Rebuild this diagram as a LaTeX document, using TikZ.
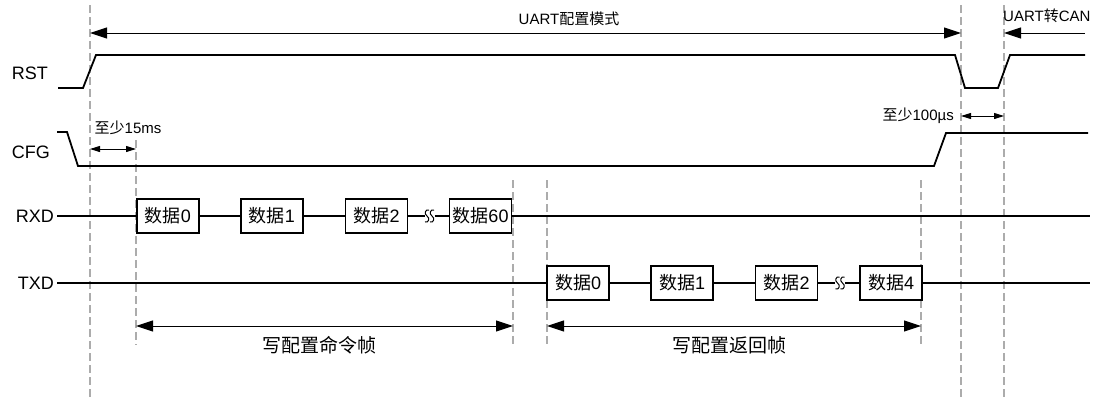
\documentclass[tikz,border=0pt]{standalone}
\usepackage{fontspec}
\setmainfont{Liberation Sans}
\newfontfamily\cnfont{Noto Sans CJK SC}
\usepackage{tikz}
\usetikzlibrary{arrows.meta}

\newcommand{\zh}[1]{{\cnfont #1}}

\begin{document}
\begin{tikzpicture}[
    x=1pt, y=-1pt,
    every node/.style={inner sep=1pt},
    sig/.style    ={line width=1.8pt,line join=miter},
    guide/.style  ={gray!65,line width=1.2pt,dash pattern=on 8pt off 4pt},
    span/.style   ={{Triangle[length=17pt,width=11pt]}-{Triangle[length=17pt,width=11pt]},
                    line width=1pt},
    lspan/.style  ={{Triangle[length=17pt,width=11pt]}-,line width=1pt},
    gap/.style    ={{Triangle[length=10pt,width=6pt]}-{Triangle[length=10pt,width=6pt]},
                    line width=1pt},
    databox/.style={draw,line width=1.8pt,fill=white,minimum width=62pt,
                    minimum height=34pt,inner sep=0pt,
                    font=\fontsize{18}{20}\selectfont},
    lbl/.style    ={font=\fontsize{18}{20}\selectfont,inner sep=3pt},
    note/.style   ={font=\fontsize{15}{17}\selectfont},
    frame/.style  ={font=\fontsize{19}{21}\selectfont},
    brk/.pic      ={
      \draw[line width=1pt] (-0.5,-6) .. controls (-4.5,-7) and (-5.5,-2) .. (-2.5,0)
                           .. controls (0.5,2) and (-0.5,7) .. (-4.5,6);
      \draw[line width=1pt] (4.5,-6) .. controls (0.5,-7) and (-0.5,-2) .. (2.5,0)
                           .. controls (5.5,2) and (4.5,7) .. (0.5,6);
    },
  ]
  \useasboundingbox (0,0) rectangle (1099,400);

  % Guide lines
  \foreach \gx/\gt/\gb in {90/5/400, 136/140/345, 513/180/345, 547/180/345,
                           921/180/345, 961/5/400, 1004/5/400}
    \draw[guide] (\gx,\gt) -- (\gx,\gb);

  % Mode arrows
  \coordinate (mL) at (90,33);
  \coordinate (mR) at (961,33);
  \coordinate (cL) at (1004,33);
  \coordinate (cR) at (1085,33);
  \draw[span]  (mL) -- (mR);
  \draw[lspan] (cL) -- (cR);
  \node[note] (mode) at (569,19) {UART\zh{配置模式}};
  \node[note,anchor=west] (can) at (1002,16) {UART\zh{转}CAN};

  % RST and CFG levels
  \node[lbl,anchor=east] (rst) at (51,73)  {RST};
  \node[lbl,anchor=east] (cfg) at (53,152) {CFG};
  \draw[sig] (58,88) -- (83,88) -- (96,55) -- (955,55) -- (965,88)
             -- (998,88) -- (1010,55) -- (1085,55);
  \draw[sig] (57,132) -- (67,132) -- (78,166) -- (934,166) -- (946,133)
             -- (1088,133);

  % Timing gaps
  \coordinate (sL) at (90,149);
  \coordinate (sR) at (136,149);
  \coordinate (uL) at (961,116);
  \coordinate (uR) at (1004,116);
  \draw[gap] (sL) -- (sR);
  \draw[gap] (uL) -- (uR);
  \node[note] (ms) at (128,128) {\zh{至少}15ms};
  \node[note,anchor=east] (us) at (955,116) {\zh{至少}100µs};

  % RXD: command frame
  \node[lbl,anchor=east] (rxd) at (57,216) {RXD};
  \node[databox] (r0)  at (168,216)   {\zh{数据}0};
  \node[databox] (r1)  at (272,216)   {\zh{数据}1};
  \node[databox] (r2)  at (376.5,216) {\zh{数据}2};
  \node[databox] (r60) at (480.5,216) {\zh{数据}60};
  \coordinate (rbrk) at (429.5,216);
  \coordinate (rend) at (1090,216);
  \draw[sig] (rxd.east) -- (r0) (r0) -- (r1) (r1) -- (r2)
             (r2) -- ([xshift=-5pt]rbrk) ([xshift=5pt]rbrk) -- (r60)
             (r60) -- (rend);
  \pic at (rbrk) {brk};

  % TXD: reply frame
  \node[lbl,anchor=east] (txd) at (57,283) {TXD};
  \node[databox] (t0) at (578,283)   {\zh{数据}0};
  \node[databox] (t1) at (682,283)   {\zh{数据}1};
  \node[databox] (t2) at (786.5,283) {\zh{数据}2};
  \node[databox] (t4) at (891,283)   {\zh{数据}4};
  \coordinate (tbrk) at (840,283);
  \coordinate (tend) at (1090,283);
  \draw[sig] (txd.east) -- (t0) (t0) -- (t1) (t1) -- (t2)
             (t2) -- ([xshift=-5pt]tbrk) ([xshift=5pt]tbrk) -- (t4)
             (t4) -- (tend);
  \pic at (tbrk) {brk};

  % Frame spans
  \coordinate (fL) at (136,326);
  \coordinate (fR) at (513,326);
  \coordinate (bL) at (547,326);
  \coordinate (bR) at (921,326);
  \draw[span] (fL) -- (fR);
  \draw[span] (bL) -- (bR);
  \node[frame] (cmd) at (319,345) {\zh{写配置命令帧}};
  \node[frame] (ack) at (729,345) {\zh{写配置返回帧}};
\end{tikzpicture}
\end{document}
